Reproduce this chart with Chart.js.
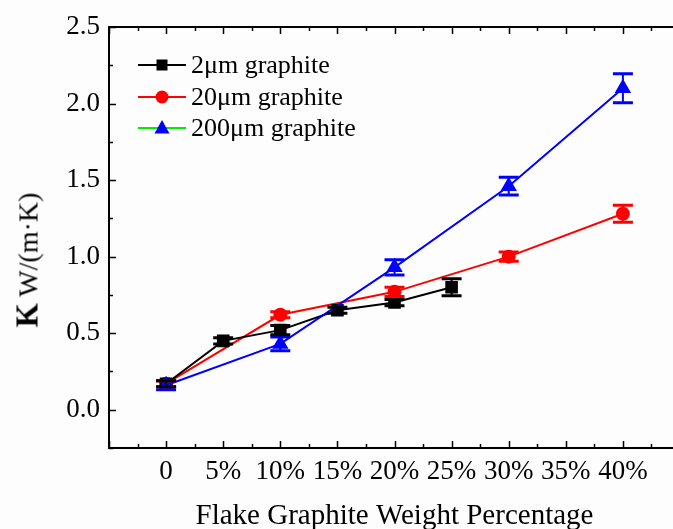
<!DOCTYPE html>
<html>
<head>
<meta charset="utf-8">
<script src="https://cdn.jsdelivr.net/npm/chart.js@4.4.0/dist/chart.umd.min.js"></script>
<style>
  html, body { margin:0; padding:0; overflow:hidden; background:#fdfdfd; }
  #wrap { position:relative; width:700px; height:560px; }
  canvas { position:absolute; left:0; top:0; }
  #ytitle { position:absolute; left:27px; top:260px; transform:translate(-50%,-50%) rotate(-90deg); white-space:nowrap; font-size:28px; line-height:1; font-family:"Liberation Serif",serif; color:#000; }
  #ytitle b { font-size:31px; }
  .leg { position:absolute; left:138px; height:30px; display:flex; align-items:center; white-space:nowrap; }
  .leg span { font-family:"Liberation Serif",serif; font-size:26px; color:#000; }
  .leg svg { width:48px; height:24px; margin-right:5px; }
</style>
</head>
<body>
<div id="wrap">
  <canvas id="c" width="700" height="560"></canvas>
  <div id="ytitle"><b>K</b> W/(m·K)</div>
  <div class="leg" style="top:50px"><svg viewBox="0 0 48 24"><line x1="0" y1="12" x2="48" y2="12" stroke="#000" stroke-width="2"/><rect x="18.5" y="6.5" width="11" height="11" fill="#000"/></svg><span>2μm graphite</span></div>
  <div class="leg" style="top:82px"><svg viewBox="0 0 48 24"><line x1="0" y1="12" x2="48" y2="12" stroke="#ff0000" stroke-width="2"/><circle cx="24" cy="12" r="6.5" fill="#ff0000"/></svg><span>20μm graphite</span></div>
  <div class="leg" style="top:113px"><svg viewBox="0 0 48 24"><line x1="0" y1="12" x2="48" y2="12" stroke="#00ee00" stroke-width="2"/><polygon points="24,4 31.5,17.5 16.5,17.5" fill="#0000ff"/></svg><span>200μm graphite</span></div>
</div>
<script>
// ---- data ----
const xTickValues = [0, 5, 10, 15, 20, 25, 30, 35, 40];
const xTickLabels = ['0', '5%', '10%', '15%', '20%', '25%', '30%', '35%', '40%'];
const yTickValues = [0, 0.5, 1.0, 1.5, 2.0, 2.5];
const yTickLabels = ['0.0', '0.5', '1.0', '1.5', '2.0', '2.5'];

const pct2 = [0, 5, 10, 15, 20, 25];
const k2 = [0.17, 0.45, 0.52, 0.65, 0.70, 0.80];
const err2 = [0.02, 0.02, 0.03, 0.02, 0.02, 0.055];

const pct20 = [0, 10, 20, 30, 40];
const k20 = [0.17, 0.62, 0.77, 1.00, 1.28];
const err20 = [0.02, 0.02, 0.03, 0.03, 0.055];

const pct200 = [0, 10, 20, 30, 40];
const k200 = [0.16, 0.43, 0.93, 1.46, 2.10];
const err200 = [0.03, 0.045, 0.05, 0.058, 0.095];

const xTitle = 'Flake Graphite Weight Percentage';
const serif = '"Liberation Serif","DejaVu Serif",serif';

function pts(xs, ys) { return xs.map((x, i) => ({ x: x, y: ys[i] })); }

const errorBars = {
  id: 'errorBars',
  afterDatasetsDraw(chart) {
    const ctx = chart.ctx, xs = chart.scales.x, ys = chart.scales.y;
    chart.data.datasets.forEach(ds => {
      ctx.save();
      ctx.strokeStyle = ds.borderColor;
      ds.data.forEach((p, i) => {
        const e = ds.errors[i];
        const px = xs.getPixelForValue(p.x);
        const top = ys.getPixelForValue(p.y + e);
        const bot = ys.getPixelForValue(p.y - e);
        ctx.lineWidth = 2;
        ctx.beginPath(); ctx.moveTo(px, top); ctx.lineTo(px, bot); ctx.stroke();
        ctx.lineWidth = 3;
        ctx.beginPath();
        ctx.moveTo(px - 10, top); ctx.lineTo(px + 10, top);
        ctx.moveTo(px - 10, bot); ctx.lineTo(px + 10, bot);
        ctx.stroke();
      });
      ctx.restore();
    });
  }
};

const frame = {
  id: 'frame',
  afterDraw(chart) {
    const ctx = chart.ctx, a = chart.chartArea, xs = chart.scales.x, ys = chart.scales.y;
    ctx.save();
    ctx.strokeStyle = '#000';
    ctx.lineWidth = 2;
    ctx.strokeRect(a.left, a.top, a.right - a.left, a.bottom - a.top);
    ctx.beginPath();
    for (let v = xs.min; v <= xs.max + 1e-9; v += 2.5) {
      const major = Math.abs(v / 5 - Math.round(v / 5)) < 1e-6;
      const len = major ? 7 : 4;
      const px = Math.round(xs.getPixelForValue(v)) + 0.5;
      ctx.moveTo(px, a.bottom); ctx.lineTo(px, a.bottom - len);
      ctx.moveTo(px, a.top); ctx.lineTo(px, a.top + len);
    }
    for (let v = ys.min; v <= ys.max + 1e-9; v += 0.25) {
      const major = Math.abs(v / 0.5 - Math.round(v / 0.5)) < 1e-6;
      const len = major ? 7 : 4;
      const py = Math.round(ys.getPixelForValue(v)) + 0.5;
      ctx.moveTo(a.left, py); ctx.lineTo(a.left + len, py);
      ctx.moveTo(a.right, py); ctx.lineTo(a.right - len, py);
    }
    ctx.lineWidth = 1.5;
    ctx.stroke();
    ctx.restore();
  }
};

new Chart(document.getElementById('c'), {
  type: 'line',
  data: {
    datasets: [
      { label: '200μm graphite', data: pts(pct200, k200), errors: err200, borderColor: '#0000ff', backgroundColor: '#0000ff',
        pointStyle: 'triangle', pointRadius: 7.5, borderWidth: 2, order: 0 },
      { label: '20μm graphite', data: pts(pct20, k20), errors: err20, borderColor: '#ff0000', backgroundColor: '#ff0000',
        pointStyle: 'circle', pointRadius: 6, borderWidth: 2, order: 2 },
      { label: '2μm graphite', data: pts(pct2, k2), errors: err2, borderColor: '#000000', backgroundColor: '#000000',
        pointStyle: 'rect', pointRadius: 7.5, borderWidth: 2, order: 1 }
    ]
  },
  options: {
    responsive: false,
    animation: false,
    layout: { padding: { top: 27, right: 20, left: 0, bottom: 0 } },
    elements: { line: { tension: 0, fill: false }, point: { borderWidth: 0 } },
    plugins: { legend: { display: false }, tooltip: { enabled: false } },
    scales: {
      x: {
        type: 'linear', min: -5, max: 45,
        grid: { display: false, drawTicks: false },
        border: { display: false },
        afterBuildTicks: s => { s.ticks = xTickValues.map(v => ({ value: v })); },
        afterFit: s => { s.height = 112; },
        ticks: {
          autoSkip: false, maxRotation: 0, padding: 8, color: '#000',
          font: { family: serif, size: 27 },
          callback: v => xTickLabels[xTickValues.indexOf(v)]
        },
        title: { display: true, text: xTitle, color: '#000', font: { family: serif, size: 29 }, padding: { top: 0, bottom: 26 } }
      },
      y: {
        type: 'linear', min: -0.25, max: 2.5,
        grid: { display: false, drawTicks: false },
        border: { display: false },
        afterBuildTicks: s => { s.ticks = yTickValues.map(v => ({ value: v })); },
        afterFit: s => { s.width = 109; },
        ticks: {
          padding: 9, color: '#000',
          font: { family: serif, size: 27 },
          callback: v => yTickLabels[yTickValues.indexOf(v)]
        }
      }
    }
  },
  plugins: [errorBars, frame]
});
</script>
</body>
</html>
